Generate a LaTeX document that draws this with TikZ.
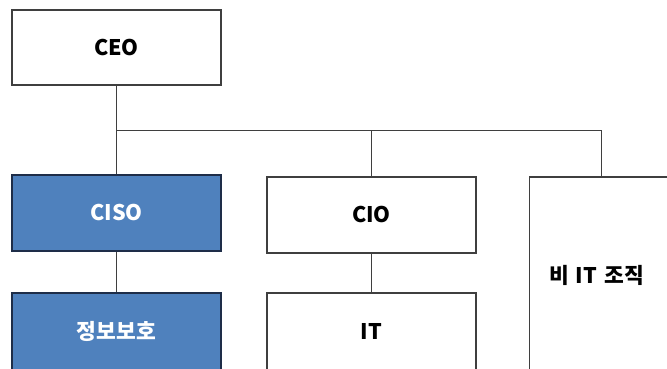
\documentclass[tikz,border=0pt]{standalone}
\usepackage{fontspec}
\setmainfont{Noto Sans CJK KR}
\definecolor{edge}{HTML}{3F3F3F}
\definecolor{secblue}{HTML}{4F81BD}
\definecolor{secedge}{HTML}{1E2D48}
\tikzset{
  orgbox/.style={draw=edge, line width=1.4pt, fill=white, minimum width=209pt,
    minimum height=76pt, inner sep=0pt, text=black,
    font=\fontsize{21.5}{24}\selectfont\bfseries},
  secbox/.style={orgbox, fill=secblue, draw=secedge, text=white},
  link/.style={draw=edge, line width=1.4pt}
}
\begin{document}
\begin{tikzpicture}[x=1pt, y=-1pt]
  \useasboundingbox (0,0) rectangle (667,369);
  \clip (0,0) rectangle (667,369);
  % top level
  \node[orgbox, minimum height=75pt] (ceo) at (116.5,47.5) {CEO};
  % security branch
  \node[secbox] (ciso) at (116.5,213) {CISO};
  \node[secbox, minimum height=77pt] (infosec) at (116.5,331.5) {정보보호};
  % IT branch
  \node[orgbox] (cio) at (371.5,215) {CIO};
  \node[orgbox, minimum height=77pt] (it) at (371.5,331.5) {IT};
  % non-IT organisation
  \node[orgbox, minimum width=144pt, minimum height=196pt] (nonit) at (601.5,275)
    {\hspace*{-10pt}비\hspace{7pt}IT\hspace{7pt}조직};
  % bus line
  \coordinate (bus) at (116.5,130.5);
  \draw[link] (ceo.south) -- (ciso.north);
  \draw[link] (bus) -- (nonit.north |- bus);
  \draw[link] (cio.north) -- (cio.north |- bus);
  \draw[link] (nonit.north) -- (nonit.north |- bus);
  \draw[link] (ciso.south) -- (infosec.north);
  \draw[link] (cio.south) -- (it.north);
\end{tikzpicture}
\end{document}
